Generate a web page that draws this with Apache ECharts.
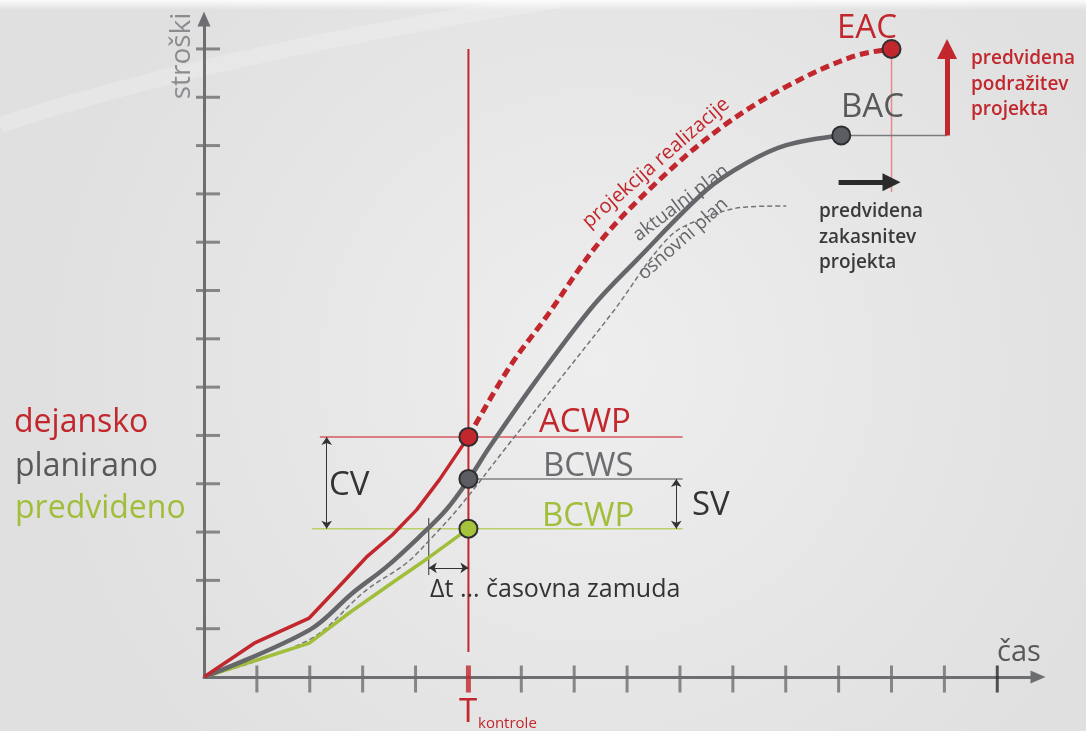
<!DOCTYPE html>
<html>
<head>
<meta charset="utf-8">
<script src="https://cdn.jsdelivr.net/npm/echarts@6/dist/echarts.min.js"></script>
<style>
html,body{margin:0;padding:0;background:#e8e8e8;}
#chart{width:1086px;height:731px;}
</style>
</head>
<body>
<div id="chart"></div>
<script>
// ---- data (axis units: time periods / cost units) ----
const xTickValues = [1,2,3,4,5,6,7,8,9,10,11,12,13,14,15];
const yTickValues = [1,2,3,4,5,6,7,8,9,10,11,12,13];
const controlTime = 5;
const lastTick = 15;

const actualCost = [[0,0],[0.95,0.70],[1.99,1.22],[2.62,1.95],[3.07,2.48],[3.56,2.94],[4.02,3.46],[4.45,4.08],[5.0,4.97]];
const costProjection = [[5.0,4.97],[5.78,6.42],[6.47,7.45],[7.47,8.99],[8.61,10.29],[9.80,11.39],[11.01,12.22],[12.26,12.84],[13.0,13.0]];
const currentPlan = [[0,0],[1.99,0.97],[2.81,1.74],[3.45,2.28],[4.07,2.90],[4.58,3.46],[5.0,4.08],[5.40,4.76],[6.29,6.15],[7.34,7.66],[8.18,8.63],[9.50,10.08],[10.26,10.64],[11.01,11.01],[12.05,11.21]];
const baselinePlan = [[0,0],[1.99,0.77],[3.07,1.80],[3.83,2.36],[4.32,2.90],[4.83,3.52],[5.72,4.76],[6.72,6.15],[7.72,7.54],[8.80,9.11],[9.50,9.52],[10.26,9.73],[11.01,9.75]];
const earnedValue = [[0,0],[1.99,0.70],[2.75,1.33],[3.56,1.95],[4.26,2.48],[5.0,3.07]];

const ACWP = 4.97, BCWS = 4.10, BCWP = 3.07;
const EAC = [13.0, 13.0];
const BAC = [12.05, 11.21];
const refLineStart = { ACWP: 2.19, BCWP: 2.04, BCWS: 5.0 };
const refLineEnd = 9.05;
const cvX = 2.32, svX = 8.93;
const dtStart = 4.25, dtY = 2.26, dtTop = 3.29, dtBottom = 2.11;
const controlLineTop = 13.0, controlLineBottom = 0.52;
const delayArrow = { from: 12.0, to: 13.0, y: 10.24, lineBottom: 10.04 };
const overrunArrowX = 14.05;

// ---- styles ----
const RED = '#c1272d', GRAY = '#65666a', DARKGRAY = '#58595b', GREEN = '#a0be3a', INK = '#333333';
const FONT = '"Open Sans", "Noto Sans", sans-serif';

const chart = echarts.init(document.getElementById('chart'));

function seg(a, b) { return [a, b]; }
function lineSeries(data, color, width, type, z, smooth) {
  return { type:'line', data:data, showSymbol:false, symbol:'none', silent:true, z:z||3,
    smooth: smooth||false,
    lineStyle:{ color:color, width:width, type:type||'solid', cap:'butt' } };
}
function arrowSeries(coords, color, width, symbol, size, z) {
  return { type:'lines', coordinateSystem:'cartesian2d', silent:true, z:z||4,
    symbol:symbol, symbolSize:size,
    lineStyle:{ color:color, width:width, opacity:1, curveness:0 },
    data: coords.map(c => ({ coords:c })) };
}
function dot(pt, fill) {
  return { type:'scatter', data:[pt], symbolSize:18, z:10, silent:true,
    itemStyle:{ color:fill, borderColor:'#2e2e30', borderWidth:2, opacity:1 } };
}
// text placed by its baseline
function txt(text, x, baseline, size, color, opts) {
  opts = opts || {};
  const lh = opts.lh || size;
  const top = baseline - (lh - size)/2 - 0.83*size;
  return { type:'text', x:x, y:top, z:20, silent:true,
    style:{ text:text, fill:color, font:(opts.weight||'normal')+' '+size+'px '+FONT,
      textAlign:opts.align||'left', textVerticalAlign:'top', lineHeight:lh } };
}
// text placed by its centre, rotated
function rtxt(text, x, y, size, color, rot, weight) {
  return { type:'text', x:x, y:y, rotation:rot, z:20, silent:true,
    style:{ text:text, fill:color, font:(weight||'normal')+' '+size+'px '+FONT,
      textAlign:'center', textVerticalAlign:'middle' } };
}

const series = [
  // tick marks
  { type:'scatter', z:2, silent:true, symbol:'rect', symbolSize:[3,27], symbolOffset:[0,2],
    itemStyle:{color:'#6d6e71'}, data: xTickValues.filter(v => v!==controlTime && v!==lastTick).map(v => [v,0]) },
  { type:'scatter', z:2, silent:true, symbol:'rect', symbolSize:[3,27], symbolOffset:[0,2],
    itemStyle:{color:'#2a2a2a'}, data: [[lastTick,0]] },
  { type:'scatter', z:2, silent:true, symbol:'rect', symbolSize:[5,27], symbolOffset:[0,2],
    itemStyle:{color:RED}, data: [[controlTime,0]] },
  { type:'scatter', z:2, silent:true, symbol:'rect', symbolSize:[24,3], symbolOffset:[4,0],
    itemStyle:{color:'#6d6e71'}, data: yTickValues.map(v => [0,v]) },

  // reference lines
  lineSeries(seg([controlTime,controlLineTop],[controlTime,controlLineBottom]), RED, 2, 'solid', 2),
  lineSeries(seg([refLineStart.ACWP,ACWP],[refLineEnd,ACWP]), '#d45a5e', 1.5, 'solid', 2),
  lineSeries(seg([refLineStart.BCWS,BCWS],[refLineEnd,BCWS]), '#808184', 1.5, 'solid', 2),
  lineSeries(seg([refLineStart.BCWP,BCWP],[refLineEnd,BCWP]), '#b9cf6a', 1.5, 'solid', 2),
  lineSeries(seg([EAC[0],EAC[1]],[EAC[0],delayArrow.lineBottom]), '#e58a8e', 1.5, 'solid', 2),
  lineSeries(seg([BAC[0],BAC[1]],[overrunArrowX,BAC[1]]), '#7a7b7e', 1.5, 'solid', 2),
  lineSeries(seg([dtStart,dtTop],[dtStart,dtBottom]), INK, 1, 'solid', 2),

  // curves
  lineSeries(baselinePlan, '#737477', 1.5, [5,3], 3, 0.35),
  lineSeries(earnedValue, GREEN, 3.5, 'solid', 4),
  lineSeries(currentPlan, GRAY, 4.5, 'solid', 4, 0.35),
  lineSeries(actualCost, RED, 3.5, 'solid', 5),
  lineSeries(costProjection, RED, 5, [9,5], 5, 0.35),

  // dimension arrows
  arrowSeries([[[cvX,ACWP],[cvX,BCWP]],[[svX,BCWS],[svX,BCWP]],[[dtStart,dtY],[controlTime,dtY]]], INK, 1, ['arrow','arrow'], 8, 6),
  // delay arrow (black) and overrun arrow (red)
  arrowSeries([[[delayArrow.from,delayArrow.y],[delayArrow.to,delayArrow.y]]], '#2b2b2b', 5, ['none','triangle'], 18, 6),
  arrowSeries([[[overrunArrowX,BAC[1]],[overrunArrowX,EAC[1]]]], RED, 5, ['none','triangle'], 20, 6),

  // points
  dot([controlTime,ACWP], RED),
  dot([controlTime,BCWS], '#5c5d62'),
  dot([controlTime,BCWP], '#a6c33c'),
  dot(EAC, RED),
  dot(BAC, '#5c5d62')
];

const deg = Math.PI/180;
const graphics = [
  // top highlight and faint swoosh
  { type:'rect', shape:{x:0,y:0,width:1086,height:10}, z:-10, silent:true,
    style:{ fill:{type:'linear',x:0,y:0,x2:0,y2:1,colorStops:[{offset:0,color:'rgba(255,255,255,0.9)'},{offset:1,color:'rgba(255,255,255,0)'}]} } },
  { type:'bezierCurve', z:-9, silent:true,
    shape:{x1:0,y1:125,cpx1:120,cpy1:85,cpx2:300,cpy2:40,x2:560,y2:0},
    style:{ stroke:'rgba(255,255,255,0.2)', lineWidth:16, fill:null } },

  rtxt('stroški', 182, 56, 28, '#8b8c8f', 90*deg),
  txt('čas', 997, 662, 29, DARKGRAY),
  txt('EAC', 837, 39, 33, RED),
  txt('BAC', 841, 118, 33, DARKGRAY),
  txt('predvidena\npodražitev\nprojekta', 971, 65, 19, RED, {weight:600, lh:25.5}),
  txt('predvidena\nzakasnitev\nprojekta', 819, 218, 19, '#3a3a3a', {weight:600, lh:25.5}),
  rtxt('projekcija realizacije', 656, 163, 20, RED, 41*deg),
  rtxt('aktualni plan', 681, 203, 19, GRAY, 37*deg),
  rtxt('osnovni plan', 683, 239, 19, GRAY, 41.4*deg),
  txt('ACWP', 539, 433, 33, RED),
  txt('BCWS', 543, 477, 33, '#6b6c70'),
  txt('BCWP', 542, 527, 33, GREEN),
  txt('CV', 329, 496, 33, INK),
  txt('SV', 692, 516, 33, INK),
  txt('Δt ... časovna zamuda', 430, 598, 25, INK),
  txt('T', 459, 723, 33, RED),
  txt('kontrole', 478, 729, 15, RED),
  txt('dejansko', 14, 433, 32, RED),
  txt('planirano', 15, 477, 32, DARKGRAY),
  txt('predvideno', 15, 519, 32, GREEN)
];

chart.setOption({
  animation:false,
  backgroundColor:{ type:'radial', x:0.55, y:0.5, r:0.75,
    colorStops:[{offset:0,color:'#eeeeee'},{offset:1,color:'#e0e0e0'}] },
  grid:{ left:204, right:48, top:19, bottom:54, containLabel:false },
  xAxis:{ type:'value', min:0, max:15.77, interval:1,
    axisLine:{ show:true, symbol:['none','triangle'], symbolSize:[13,15], lineStyle:{color:'#6d6e71',width:3} },
    axisTick:{show:false}, axisLabel:{show:false}, splitLine:{show:false} },
  yAxis:{ type:'value', min:0, max:13.62, interval:1,
    axisLine:{ show:true, symbol:['none','triangle'], symbolSize:[13,15], lineStyle:{color:'#6d6e71',width:3} },
    axisTick:{show:false}, axisLabel:{show:false}, splitLine:{show:false} },
  series: series,
  graphic: graphics
});
</script>
</body>
</html>
